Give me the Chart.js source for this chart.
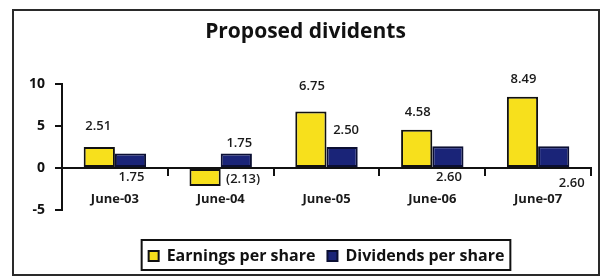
<!DOCTYPE html>
<html><head><meta charset="utf-8">
<script src="https://cdn.jsdelivr.net/npm/chart.js@4"></script>
<style>html,body{margin:0;padding:0;background:#fff}#wrap{width:603px;height:279px;position:relative}</style>
</head><body><div id="wrap"><canvas id="c" width="603" height="279"></canvas></div>
<script>
// ---- data ----
const categories = ['June-03', 'June-04', 'June-05', 'June-06', 'June-07'];
const earningsPerShare = [2.51, -2.13, 6.75, 4.58, 8.49];
const dividendsPerShare = [1.75, 1.75, 2.50, 2.60, 2.60];
const yTicks = [10, 5, 0, -5];
const seriesNames = ['Earnings per share', 'Dividends per share'];

// ---- label placement (style, relative to each bar) ----
const labelPlacement = [
  [{a:'end',dx:-1,dy:-21},{a:'base',dx:38,dy:10},{a:'end',dx:1,dy:-25},{a:'end',dx:1,dy:-17},{a:'end',dx:1,dy:-18}],
  [{a:'base',dx:1,dy:10},{a:'end',dx:3,dy:-10},{a:'end',dx:4,dy:-17},{a:'base',dx:1,dy:10},{a:'base',dx:18,dy:16}]
];

const fmt = v => v < 0 ? '(' + Math.abs(v).toFixed(2) + ')' : v.toFixed(2);
const FONT = "'Open Sans', 'DejaVu Sans', sans-serif";

const framePlugin = {
  id: 'frame',
  beforeDraw(chart) {
    const ctx = chart.ctx;
    ctx.save();
    ctx.fillStyle = '#fff';
    ctx.fillRect(0, 0, chart.width, chart.height);
    ctx.strokeStyle = '#2a2a2a';
    ctx.lineWidth = 2;
    ctx.strokeRect(13, 10, 586, 265);
    ctx.restore();
  },
  afterDraw(chart) {
    const ctx = chart.ctx;
    const hb = chart.legend.legendHitBoxes;
    if (hb && hb.length) {
      const l = hb[0].left - 7;
      const r = hb[hb.length - 1].left + hb[hb.length - 1].width + 6;
      const t = hb[0].top - 8;
      const b = hb[0].top + hb[0].height + 6;
      ctx.save();
      ctx.strokeStyle = '#111';
      ctx.lineWidth = 2;
      ctx.strokeRect(l, t, r - l, b - t);
      ctx.restore();
    }
    ctx.save();
    ctx.font = '600 13px ' + FONT;
    ctx.fillStyle = '#1a1a1a';
    ctx.textAlign = 'center';
    ctx.textBaseline = 'middle';
    chart.data.datasets.forEach((ds, di) => {
      const meta = chart.getDatasetMeta(di);
      meta.data.forEach((bar, i) => {
        const p = labelPlacement[di][i];
        const y0 = p.a === 'end' ? bar.y : bar.base;
        ctx.fillText(fmt(ds.data[i]), bar.x + p.dx, y0 + p.dy);
      });
    });
    ctx.restore();
  }
};

new Chart(document.getElementById('c'), {
  type: 'bar',
  data: {
    labels: categories,
    datasets: [
      { label: seriesNames[0], data: earningsPerShare, backgroundColor: '#f7e01c', borderColor: '#111', borderWidth: 2, borderSkipped: false },
      { label: seriesNames[1], data: dividendsPerShare, backgroundColor: '#1a2478', borderColor: '#0b0f33', borderWidth: 2, borderSkipped: false }
    ]
  },
  options: {
    responsive: false,
    animation: false,
    devicePixelRatio: 1,
    layout: { padding: { top: 12, left: 20, right: 12, bottom: 5 } },
    datasets: { bar: { categoryPercentage: 0.59, barPercentage: 1 } },
    plugins: {
      tooltip: { enabled: false },
      title: {
        display: true, text: 'Proposed dividents', color: '#111',
        font: { family: FONT, size: 21, weight: '700', lineHeight: 1.2 },
        padding: { top: 7, bottom: 40 }
      },
      legend: {
        position: 'bottom', fullSize: false,
        title: { display: true, text: ' ', font: { size: 1, lineHeight: 1 }, padding: { top: 25, bottom: 0 } },
        labels: { boxWidth: 10, boxHeight: 10, padding: 12, color: '#111', font: { family: FONT, size: 16, weight: '700' } }
      }
    },
    scales: {
      y: {
        min: -5, max: 10,
        afterFit: s => { s.width = 42; },
        afterBuildTicks: s => { s.ticks = yTicks.map(v => ({ value: v })); },
        grid: { drawOnChartArea: false, drawTicks: true, tickLength: 7, color: '#111', lineWidth: 2 },
        border: { display: true, color: '#111', width: 2 },
        ticks: { padding: 10, color: '#111', font: { family: FONT, size: 14, weight: '700' } }
      },
      x: {
        position: { y: 0 },
        offset: true,
        grid: { offset: true, drawOnChartArea: false, drawTicks: true, tickLength: 7, color: '#111', lineWidth: 2 },
        border: { display: true, color: '#111', width: 2 },
        ticks: { padding: 16, color: '#1a1a1a', font: { family: FONT, size: 13, weight: '700' }, maxRotation: 0 }
      }
    }
  },
  plugins: [framePlugin]
});
</script>
</body></html>
